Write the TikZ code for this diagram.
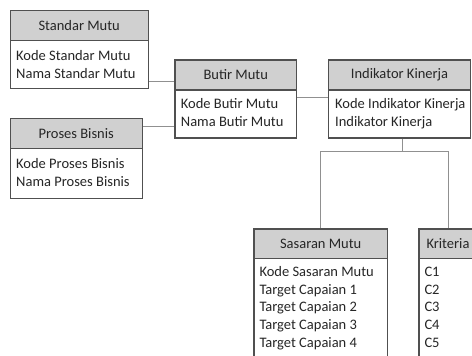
\documentclass[tikz,border=0pt]{standalone}
\usepackage{fontspec}
\setmainfont{Carlito}
\definecolor{boxline}{HTML}{505050}
\definecolor{hdrfill}{HTML}{D0D0D0}
\definecolor{conn}{HTML}{909090}
\definecolor{txt}{HTML}{262626}
\begin{document}
\begin{tikzpicture}[x=1pt,y=-1pt,
  hdr/.style={draw=boxline,fill=hdrfill,line width=1.4pt,anchor=north west,inner sep=0pt,font=\fontsize{14.5}{18}\selectfont,text=txt},
  bodybox/.style={draw=boxline,fill=white,line width=1.4pt,anchor=north west,inner sep=0pt},
  bodytxt/.style={anchor=base west,inner sep=0pt,font=\fontsize{14.5}{18}\selectfont,text=txt},
  connector/.style={draw=conn,line width=0.9pt}]
\useasboundingbox (0,0) rectangle (472,356);
\clip (0,0) rectangle (472,356);
\coordinate (c1) at (0,81.7);
\coordinate (c2) at (0,126.7);
\coordinate (c3) at (0,97.7);
\coordinate (c4) at (402.7,151.7);
% Standar Mutu
\node[bodybox,minimum width=138pt,minimum height=48pt] (smb) at (9.5,40) {};
\node[hdr,minimum width=138pt,minimum height=30pt] (smh) at (9.5,10) {Standar Mutu};
\node[bodytxt] (smt1) at (16,60) {Kode Standar Mutu};
\node[bodytxt] (smt2) at (16,78.5) {Nama Standar Mutu};
% Proses Bisnis
\node[bodybox,minimum width=132pt,minimum height=50pt] (pbb) at (9.5,148) {};
\node[hdr,minimum width=132pt,minimum height=30pt] (pbh) at (9.5,118) {Proses Bisnis};
\node[bodytxt] (pbt1) at (16,168) {Kode Proses Bisnis};
\node[bodytxt] (pbt2) at (16,186.5) {Nama Proses Bisnis};
% Butir Mutu
\node[bodybox,minimum width=121.5pt,minimum height=48pt] (bmb) at (174.3,89.3) {};
\node[hdr,minimum width=121.5pt,minimum height=30pt] (bmh) at (174.3,59.3) {Butir Mutu};
\node[bodytxt] (bmt1) at (180.7,108.3) {Kode Butir Mutu};
\node[bodytxt] (bmt2) at (180.7,126.8) {Nama Butir Mutu};
% Indikator Kinerja
\node[bodybox,minimum width=142.3pt,minimum height=48pt] (ikb) at (327.7,89.3) {};
\node[hdr,minimum width=142.3pt,minimum height=30pt] (ikh) at (327.7,59.3) {Indikator Kinerja};
\node[bodytxt] (ikt1) at (335,108.3) {Kode Indikator Kinerja};
\node[bodytxt] (ikt2) at (335,126.8) {Indikator Kinerja};
% Sasaran Mutu
\node[bodybox,minimum width=133.4pt,minimum height=110pt] (ssb) at (253.3,257.7) {};
\node[hdr,minimum width=133.4pt,minimum height=29.4pt] (ssh) at (253.3,228.3) {Sasaran Mutu};
\foreach \t [count=\i from 0] in {Kode Sasaran Mutu,Target Capaian 1,Target Capaian 2,Target Capaian 3,Target Capaian 4}
  \node[bodytxt] (sst\i) at (259.3,276.7+17.6*\i) {\t};
% Kriteria
\node[bodybox,minimum width=58pt,minimum height=110pt] (krb) at (418.3,257.7) {};
\node[hdr,minimum width=58pt,minimum height=29.4pt] (krh) at (418.3,228.3) {Kriteria};
\foreach \t [count=\i from 0] in {C1,C2,C3,C4,C5}
  \node[bodytxt] (krt\i) at (424.3,276.7+17.6*\i) {\t};
% connectors
\draw[connector] (smb.east |- c1) -- (bmb.west |- c1);
\draw[connector] (pbb.east |- c2) -- (bmb.west |- c2);
\draw[connector] (bmb.east |- c3) -- (ikb.west |- c3);
\draw[connector] (ikb.south -| c4) -- (c4);
\draw[connector] (ssh.north) |- (c4) -| (krh.north);
\end{tikzpicture}
\end{document}
